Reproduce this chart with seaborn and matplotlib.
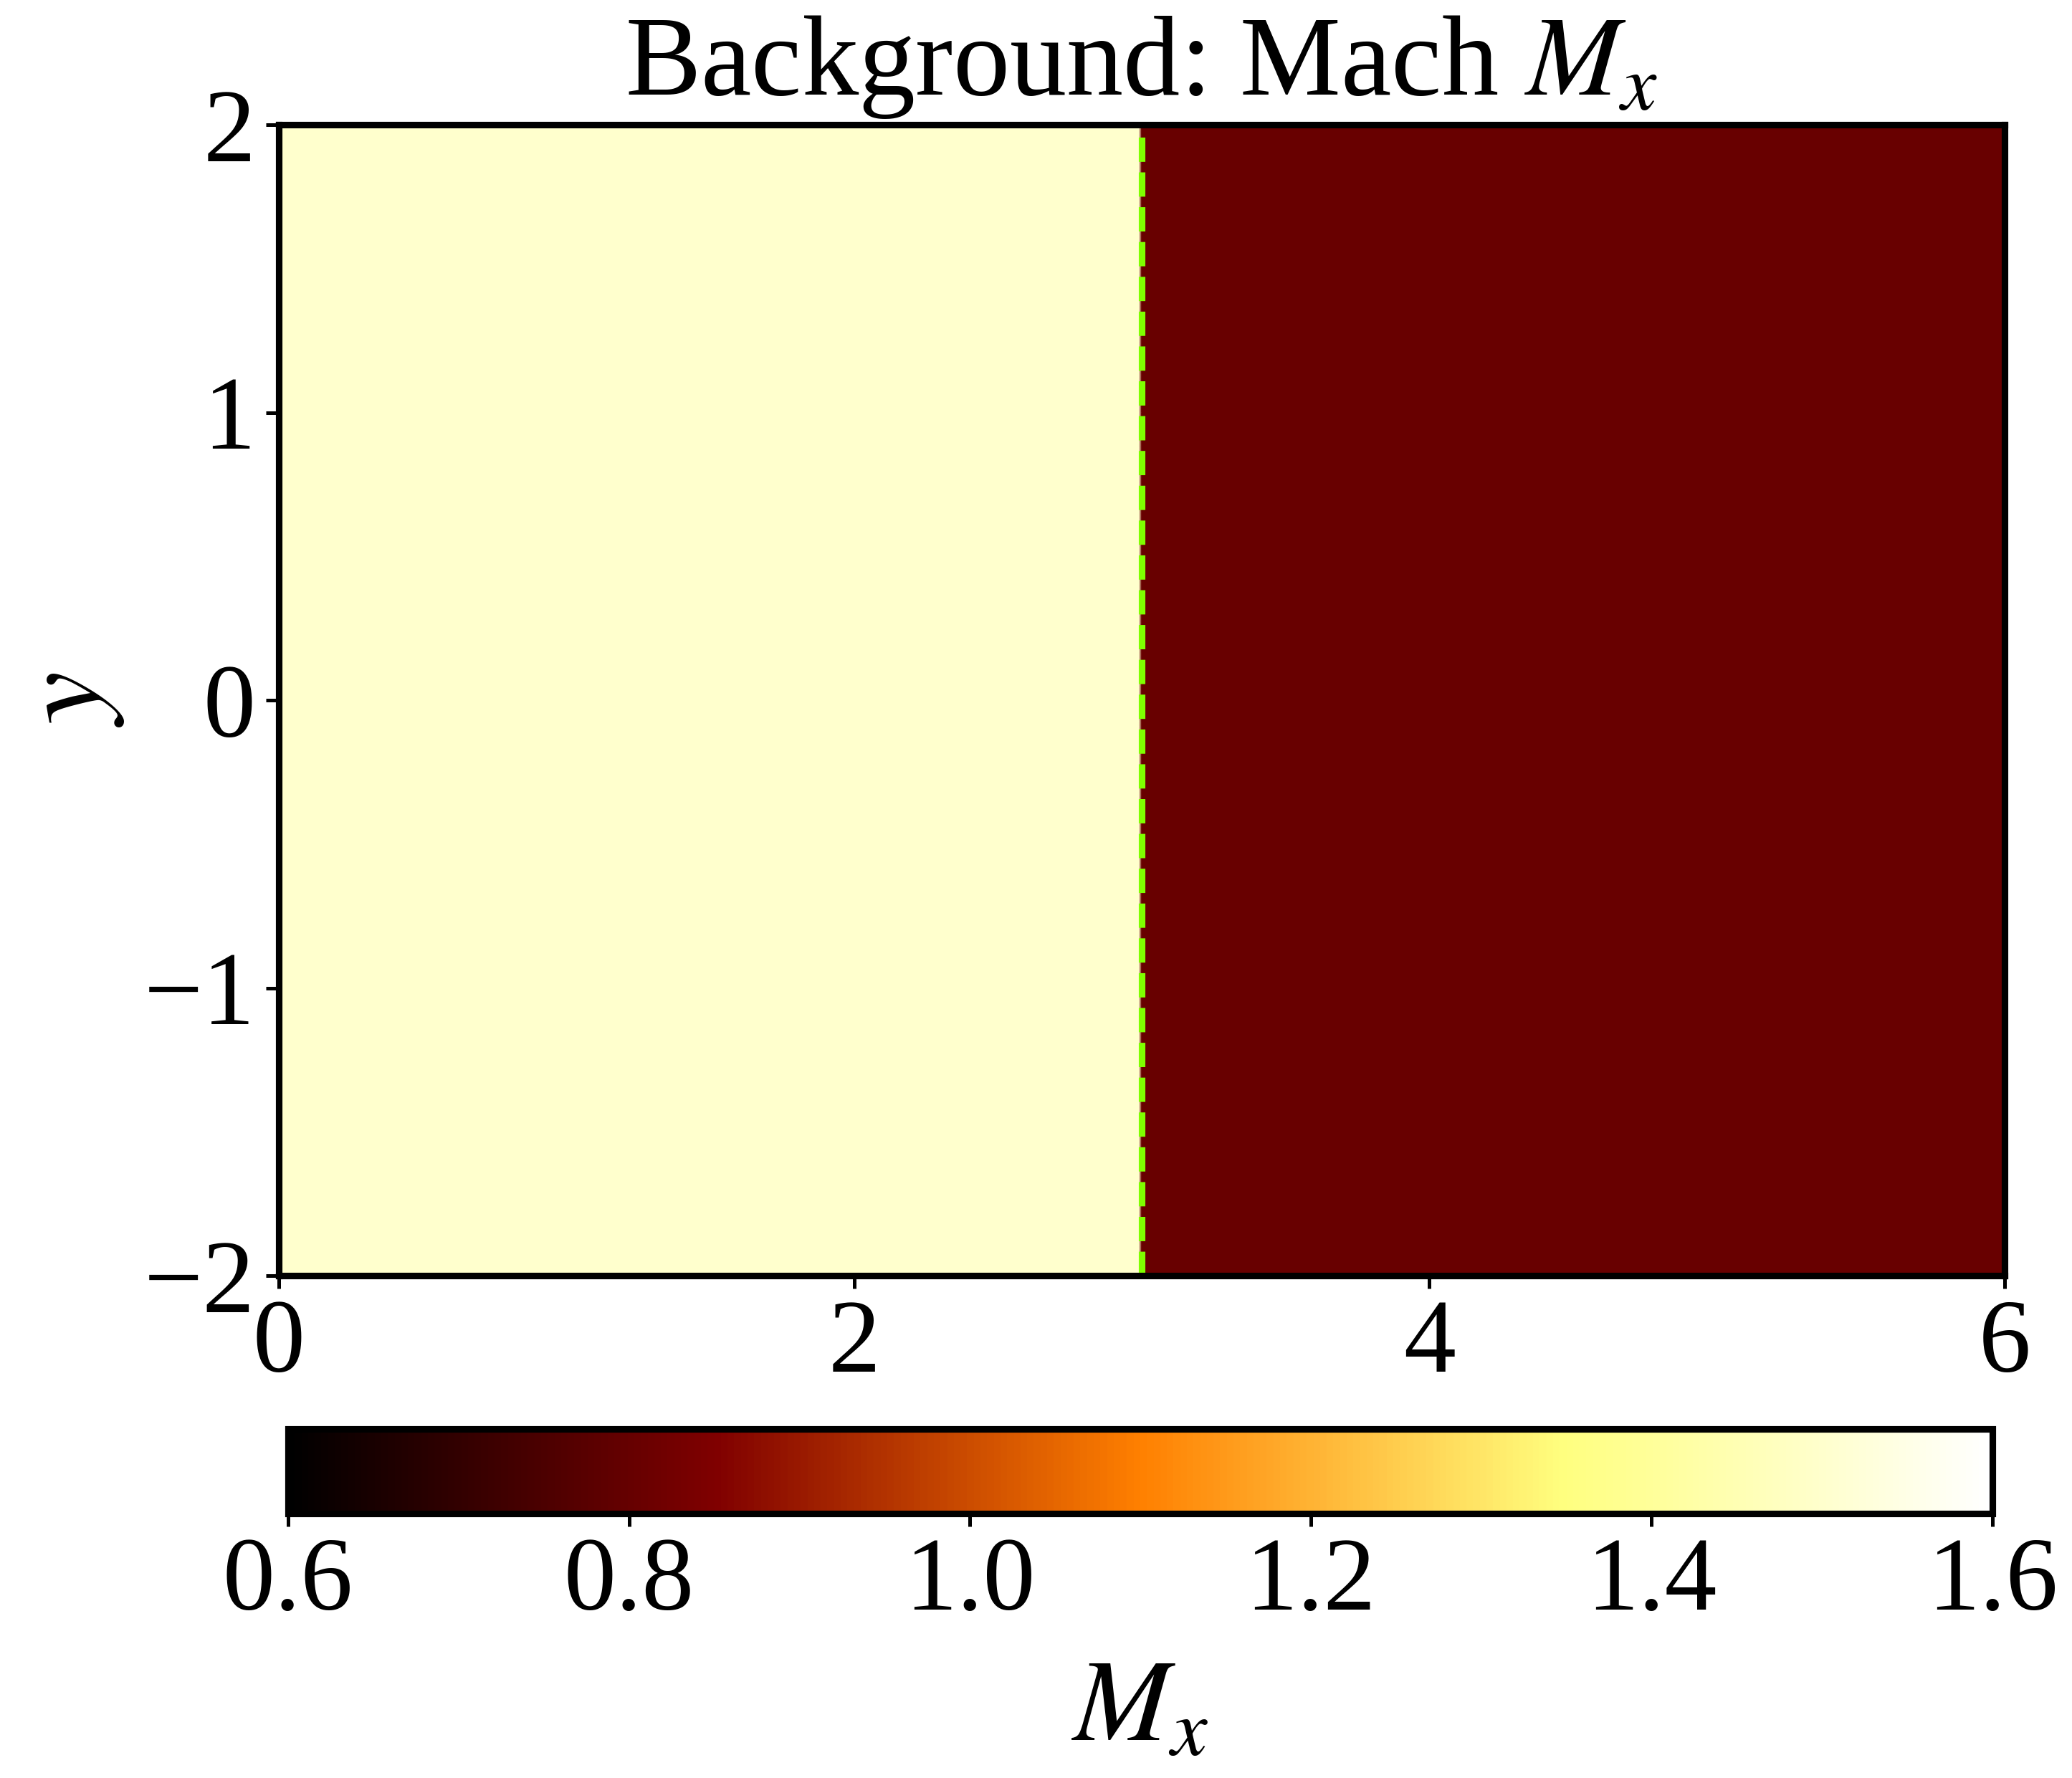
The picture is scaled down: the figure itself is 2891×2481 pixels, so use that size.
import numpy as np
import matplotlib
matplotlib.use("Agg")
import matplotlib.pyplot as plt
import seaborn as sns
import pandas as pd

# ---- data ----
mach_upstream = 1.5      # M_x for x < shock
mach_downstream = 0.805  # M_x for x > shock
shock_x = 3.0
x_range = [0.0, 6.0]
y_range = [-2.0, 2.0]
x_ticks = [0, 2, 4, 6]
y_ticks = [-2, -1, 0, 1, 2]
cbar_ticks = [0.6, 0.8, 1.0, 1.2, 1.4, 1.6]
cbar_limits = [0.6, 1.6]

sns.set_style("ticks")
plt.rcParams['font.family'] = ['Liberation Serif', 'DejaVu Serif']
plt.rcParams['mathtext.fontset'] = 'stix'
for k in ['text.color', 'axes.labelcolor', 'xtick.color', 'ytick.color', 'axes.edgecolor']:
    plt.rcParams[k] = 'black'

W, H, DPI = 2891, 2481, 300
fig = plt.figure(figsize=(W / DPI, H / DPI), dpi=DPI)

ax = fig.add_axes([389 / W, 1 - 1780 / H, (2797 - 389) / W, (1780 - 174) / H])
cax = fig.add_axes([402 / W, 1 - 2112 / H, (2780 - 402) / W, (2112 - 1994) / H])

x = np.linspace(x_range[0], x_range[1], 601)
y = np.linspace(y_range[0], y_range[1], 5)
X, Y = np.meshgrid(x, y)
M = np.where(X < shock_x, mach_upstream, mach_downstream)

mesh = ax.pcolormesh(X, Y, M, cmap="afmhot", vmin=cbar_limits[0], vmax=cbar_limits[1],
                     shading="gouraud", rasterized=True)

shock_df = pd.DataFrame({"x": [shock_x, shock_x], "y": y_range})
sns.lineplot(data=shock_df, x="x", y="y", ax=ax, color="chartreuse", lw=2.2,
             linestyle="--", sort=False, estimator=None)

ax.set_xlim(*x_range)
ax.set_ylim(*y_range)
ax.set_xticks(x_ticks)
ax.set_yticks(y_ticks)
ax.set_xlabel("")
ax.set_ylabel("$y$", fontsize=40, labelpad=6, color="black")
ax.set_title("Background: Mach $M_x$", fontsize=38, pad=10, color="black")
ax.tick_params(labelsize=35, width=1.2, length=4.4, direction="out", colors="black")
for s in ax.spines.values():
    s.set_linewidth(2.2)
    s.set_color("black")

cb = fig.colorbar(mesh, cax=cax, orientation="horizontal")
cb.set_ticks(cbar_ticks)
cb.ax.tick_params(labelsize=35, width=1.2, length=4.4, colors="black")
cb.outline.set_linewidth(2.2)
cb.outline.set_edgecolor("black")
cb.set_label("$M_x$", fontsize=39, labelpad=9, color="black")

fig.savefig("out.png", dpi=DPI)
